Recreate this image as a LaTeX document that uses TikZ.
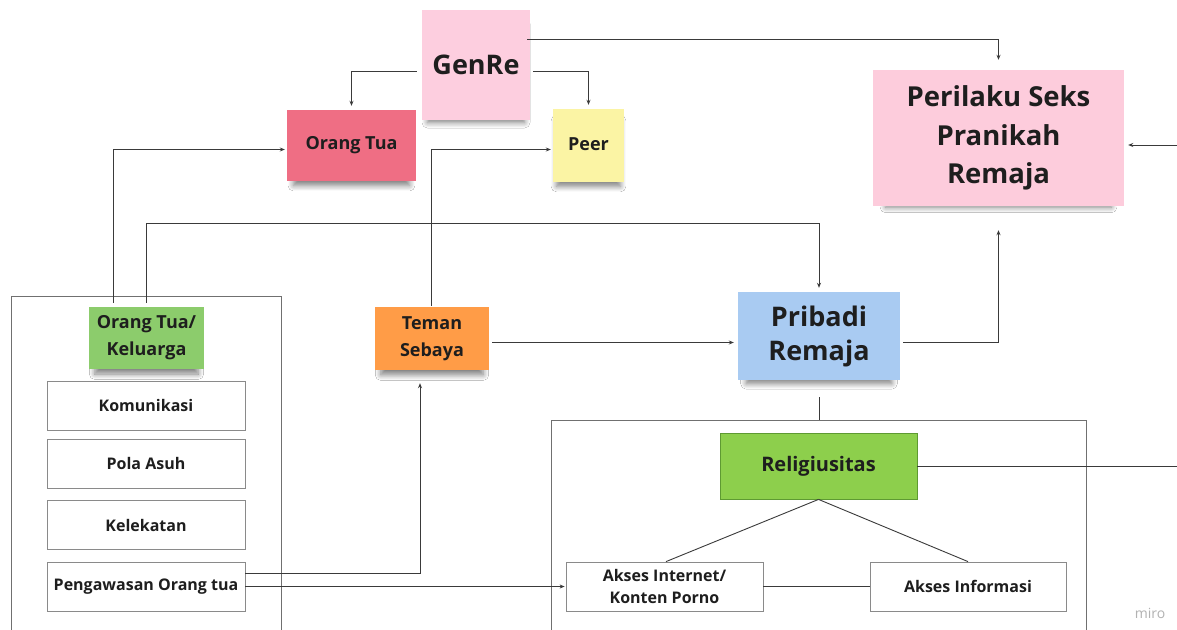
\documentclass[tikz,border=0pt]{standalone}
\usepackage{fontspec}
\setmainfont{Open Sans}
\usetikzlibrary{arrows.meta,shadows.blur}
\definecolor{cgenre}{HTML}{FDCEDF}
\definecolor{cperil}{HTML}{FDCCDC}
\definecolor{cot}{HTML}{EF6E84}
\definecolor{cpeer}{HTML}{FBF4A4}
\definecolor{cotk}{HTML}{8CCC6C}
\definecolor{cteman}{HTML}{FF9C47}
\definecolor{cprib}{HTML}{A9CBF2}
\definecolor{crel}{HTML}{8DCF4C}
\definecolor{crelb}{HTML}{5E9A32}
\definecolor{ctext}{HTML}{1E1E1E}
\definecolor{cline}{HTML}{3A3A3A}
\definecolor{cframe}{HTML}{707070}
\definecolor{cbox}{HTML}{8A8A8A}
\begin{document}
\begin{tikzpicture}[x=1pt,y=-1pt,
  sticky/.style={inner sep=0pt, align=center, text=ctext,
    blur shadow={shadow xshift=0pt, shadow yshift=-9pt, shadow scale=0.9, shadow opacity=50, shadow blur radius=6pt, shadow blur steps=8}},
  wbox/.style={draw=cbox, line width=0.8pt, fill=white, inner sep=0pt, align=center, text=ctext,
    minimum height=49pt, font=\bfseries\fontsize{16}{22}\selectfont},
  frame/.style={draw=cframe, line width=0.9pt, inner sep=0pt},
  conn/.style={draw=cline, line width=0.9pt},
  arr/.style={conn, -{Stealth[length=5pt,width=4pt]}}
]
\useasboundingbox (0,0) rectangle (1177,629);
\clip (0,0) rectangle (1177,629);
\fill[white] (0,0) rectangle (1177,629);

% frames
\node[frame, minimum width=270pt, minimum height=360pt, anchor=north west] (lframe) at (11,296) {};
\node[frame, minimum width=535pt, minimum height=240pt, anchor=north west] (rframe) at (551,420) {};

% sticky notes
\node[sticky, fill=cgenre, minimum width=108pt, minimum height=110pt,
  font=\bfseries\fontsize{27}{30}\selectfont] (genre) at (476,65) {GenRe};
\node[sticky, fill=cot, minimum width=129pt, minimum height=71pt,
  font=\bfseries\fontsize{18}{20}\selectfont] (ot) at (351.5,145.5) {\raisebox{2pt}{Orang Tua}};
\node[sticky, fill=cpeer, minimum width=71pt, minimum height=73pt,
  font=\bfseries\fontsize{18}{20}\selectfont] (peer) at (588.5,145.5) {\raisebox{2pt}{Peer}};
\node[sticky, fill=cperil, minimum width=251pt, minimum height=136pt,
  font=\bfseries\fontsize{27.5}{38.5}\selectfont] (peril) at (998.5,138) {Perilaku Seks\\Pranikah\\Remaja};
\node[sticky, fill=cotk, minimum width=115pt, minimum height=62pt,
  font=\bfseries\fontsize{18}{27}\selectfont] (otk) at (146.5,338) {Orang Tua/\\Keluarga};
\node[sticky, fill=cteman, minimum width=114pt, minimum height=63pt,
  font=\bfseries\fontsize{18}{27}\selectfont] (teman) at (432,338.5) {Teman\\Sebaya};
\node[sticky, fill=cprib, minimum width=162pt, minimum height=88pt,
  font=\bfseries\fontsize{27}{34}\selectfont] (prib) at (819,336) {\raisebox{3pt}{\parbox{150pt}{\centering Pribadi\\Remaja}}};

% white boxes
\node[wbox, minimum width=198pt] (kom) at (146,405.5) {Komunikasi};
\node[wbox, minimum width=198pt] (pola) at (146,463.5) {Pola Asuh};
\node[wbox, minimum width=198pt] (kel) at (146,525) {Kelekatan};
\node[wbox, minimum width=198pt] (peng) at (146,586.5) {Pengawasan Orang tua};
\node[draw=crelb, line width=0.8pt, fill=crel, minimum width=197pt, minimum height=66pt, inner sep=0pt,
  text=ctext, font=\bfseries\fontsize{20}{24}\selectfont] (rel) at (818.5,466) {Religiusitas};
\node[wbox, minimum width=197pt] (aint) at (664.5,586.5) {Akses Internet/\\Konten Porno};
\node[wbox, minimum width=196pt] (ainf) at (968,586.5) {Akses Informasi};

% watermark
\node[text=black!30, font=\fontsize{14}{16}\selectfont] (miro) at (1150,613) {miro};

% connectors
\draw[arr, shorten <=5pt, shorten >=4pt] ([yshift=-6pt]genre.west) -| (ot.north);
\draw[arr, shorten <=3pt, shorten >=4pt] ([yshift=-6pt]genre.east) -| (peer.north);
\draw[arr, shorten <=-3pt, shorten >=10pt] ([yshift=26pt]genre.east) -| (peril.north);
\draw[arr, shorten <=4pt, shorten >=2pt] ([xshift=-33pt]otk.north) |- ([yshift=-4pt]ot.west);
\draw[arr, shorten <=4pt, shorten >=4pt] (otk.north) -- ++(0,-83) -| (prib.north);
\draw[arr, shorten <=1pt, shorten >=2pt] ([xshift=-1pt]teman.north) |- ([yshift=-4pt]peer.west);
\coordinate (tr) at ([yshift=-4pt]teman.east);
\draw[arr, shorten <=3pt, shorten >=4pt] (tr) -- (tr -| prib.west);
\coordinate (pr) at ([yshift=-6pt]prib.east);
\draw[arr, shorten <=3pt, shorten >=24pt] (pr) -| (peril.south);
\draw[conn] ([yshift=-17pt]prib.south) -- (prib.south |- rframe.north);
\coordinate (far) at (1200,466);
\draw[arr, shorten >=4pt] (rel.east) -- (far) |- ([yshift=-7pt]peril.east);
\draw[conn] (rel.south) -- ([xshift=1.5pt]aint.north);
\draw[conn] (rel.south) -- (ainf.north);
\draw[conn] (aint.east) -- (ainf.west);
\draw[arr, shorten >=13pt] ([yshift=13.5pt]peng.east) -| ([xshift=-12pt]teman.south);
\draw[arr, shorten >=1pt] (peng.east) -- (aint.west);
\end{tikzpicture}
\end{document}
